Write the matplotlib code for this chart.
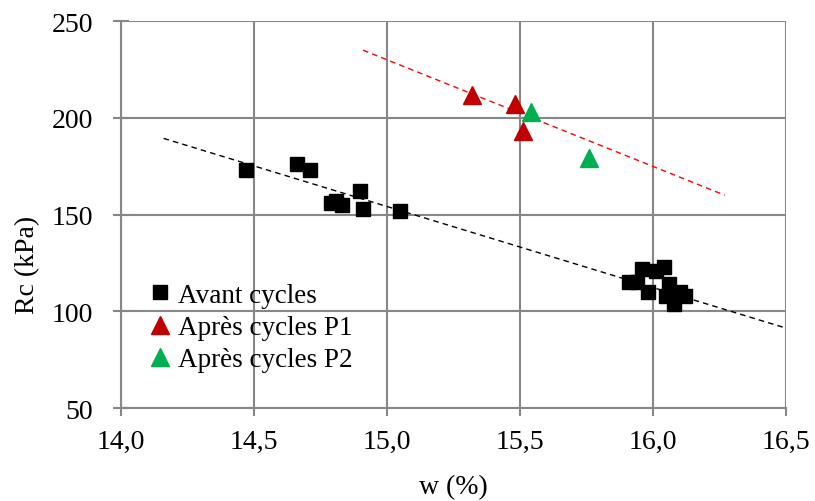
import matplotlib
matplotlib.use("Agg")
import matplotlib.pyplot as plt
import numpy as np

plt.rcParams["font.family"] = ["Liberation Serif", "DejaVu Serif"]

# Avant cycles
w_avant = [14.47, 14.66, 14.71, 14.79, 14.81, 14.83, 14.90, 14.91, 15.05,
           15.91, 15.94, 15.96, 15.98, 16.01, 16.04, 16.05, 16.06, 16.08, 16.10, 16.12]
rc_avant = [173, 176, 173, 156, 157, 155, 162, 153, 152,
            115, 115, 122, 110, 121, 123, 108, 114, 104, 110, 108]

# Apres cycles P1 / P2
w_p1 = [15.32, 15.48, 15.51]
rc_p1 = [212, 207, 193]
w_p2 = [15.54, 15.76]
rc_p2 = [203, 179]

# trend lines: slope, intercept, x range
trend_avant = (-41.9, 782.7, 14.16, 16.5)
trend_apres = (-55.1, 1056.5, 14.91, 16.27)

xticks = [14.0, 14.5, 15.0, 15.5, 16.0, 16.5]
xtick_labels = ["14,0", "14,5", "15,0", "15,5", "16,0", "16,5"]
yticks = [50, 100, 150, 200, 250]

fig = plt.figure(figsize=(8.15, 5.02), dpi=100)
ax = fig.add_axes([0.1485, 0.185, 0.8159, 0.771])

grid_col = "#878787"
ax.grid(True, color=grid_col, linewidth=1.5, zorder=0)
ax.set_axisbelow(True)

for tr, col in [(trend_avant, "black"), (trend_apres, "#FF0000")]:
    a, b, x0, x1 = tr
    xs = np.array([x0, x1])
    ax.plot(xs, a * xs + b, linestyle=(0, (4, 3)), color=col, linewidth=1.0, zorder=2)

ax.plot(w_avant, rc_avant, "s", color="black", markersize=10, linestyle="none",
        label="Avant cycles", zorder=3)
ax.plot(w_p1, rc_p1, "^", color="#C00000", markersize=13, linestyle="none",
        label="Après cycles P1", zorder=3)
ax.plot(w_p2, rc_p2, "^", color="#00B050", markersize=13, linestyle="none",
        label="Après cycles P2", zorder=3)

ax.set_xlim(14.0, 16.5)
ax.set_ylim(50, 250)
ax.set_xticks(xticks)
ax.set_xticklabels(xtick_labels)
ax.set_yticks(yticks)

for s in ["top", "right"]:
    ax.spines[s].set_visible(False)
for s in ["left", "bottom"]:
    ax.spines[s].set_color(grid_col)
    ax.spines[s].set_linewidth(1.5)

ax.tick_params(axis="x", direction="out", length=6, width=1.5, color=grid_col,
               labelsize=20, pad=9)
ax.tick_params(axis="y", direction="inout", length=12, width=1.5, color=grid_col,
               labelsize=20, pad=14)

ax.set_xlabel("w (%)", fontsize=20)
ax.set_ylabel("Rc (kPa)", fontsize=20)
ax.xaxis.label.set_va("center")
ax.yaxis.label.set_va("center")
ax.xaxis.set_label_coords(0.5, -0.204)
ax.yaxis.set_label_coords(-0.14, 0.372)

ax.legend(loc="upper left", bbox_to_anchor=(0.02, 0.352), frameon=False,
          fontsize=19.5, handletextpad=0.12, labelspacing=0.27, borderaxespad=0,
          handlelength=1.1)

fig.savefig("out.png", dpi=100)
